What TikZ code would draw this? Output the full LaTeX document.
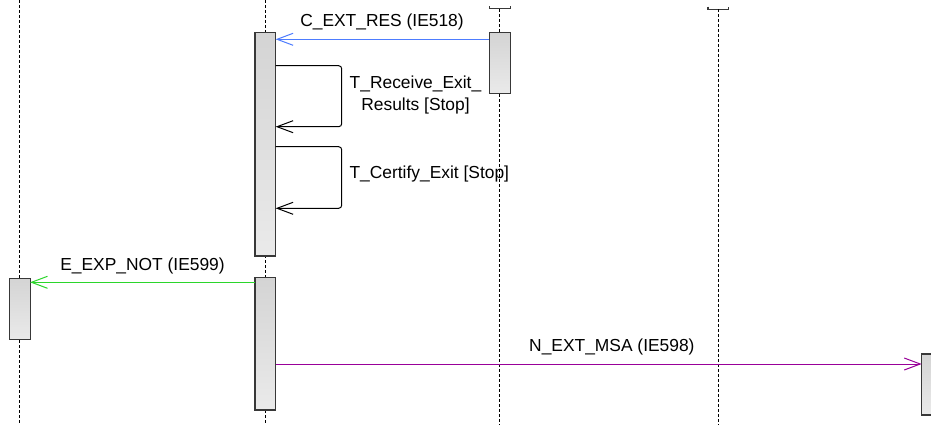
\documentclass[tikz,border=0pt]{standalone}
\usepackage{fontspec}
\setmainfont{Liberation Sans}
\usetikzlibrary{arrows.meta}
\definecolor{boxline}{HTML}{383838}
\definecolor{boxtop}{HTML}{D4D4D4}
\definecolor{boxbot}{HTML}{EAEAEA}
\definecolor{msgblue}{HTML}{4D7CFF}
\definecolor{msggreen}{HTML}{2BD62B}
\definecolor{msgpurple}{HTML}{990099}
\begin{document}
\begin{tikzpicture}[x=1pt,y=-1pt,
  actbox/.style={draw=boxline, line width=1.1pt, top color=boxtop, bottom color=boxbot,
    minimum width=20.7pt, inner sep=0pt, outer sep=0pt},
  headbox/.style={minimum width=20.7pt, minimum height=30pt, inner sep=0pt, outer sep=0pt},
  headedge/.style={draw=boxline, line width=1.1pt},
  lifeline/.style={draw=black, line width=0.8pt, dash pattern=on 3pt off 2pt},
  msg/.style={line width=1pt, -{Straight Barb[length=16pt,width=12pt,line width=1pt]}},
  lbl/.style={inner sep=0pt, font=\fontsize{17.4}{21.4}\selectfont},
]
\useasboundingbox (0,0) rectangle (931,425);
\clip (0,0) rectangle (931,425);
\fill[white] (0,0) rectangle (931,425);

% lifeline heads (cut off at the top: only their lower edge shows)
\node[headbox] (h499) at (499.7,-6.1) {};
\node[headbox] (h718) at (718.3,-5.9) {};
\draw[headedge] ([yshift=2.5pt]h499.south west) -- (h499.south west) -- (h499.south east) -- ([yshift=2.5pt]h499.south east);
\draw[headedge] ([yshift=2.5pt]h718.south west) -- (h718.south west) -- (h718.south east) -- ([yshift=2.5pt]h718.south east);

% anchors of the lifelines that start at the top edge
\path (265.3,144.3) coordinate (c265);
\path (19.7,308.8) coordinate (c20);

% lifelines
\draw[lifeline] (c20 |- 0,0) -- (c20 |- 0,425);
\draw[lifeline] (c265 |- 0,0) -- (c265 |- 0,425);
\draw[lifeline] (h499.south) -- (h499.south |- 0,425);
\draw[lifeline] (h718.south) -- (h718.south |- 0,425);

% activation boxes
\node[actbox, minimum height=223.3pt] (L265a) at (265.3,144.3) {};
\node[actbox, minimum height=132.3pt] (L265b) at (265.3,343.8) {};
\node[actbox, minimum height=60.6pt] (L499a) at (499.7,63) {};
\node[actbox, minimum height=61pt] (L20a) at (19.7,308.8) {};
\node[actbox, minimum height=61pt] (Rbox) at (932,384.5) {};

% messages
\draw[msg, msgblue] (L499a.west |- 0,39.3) -- (L265a.east |- 0,39.3);
\node[lbl, anchor=base] (lblA) at (382,26.7) {C\_EXT\_RES (IE518)};

\draw[msg, black, rounded corners=3pt] (L265a.east |- 0,65.7) -- (341.7,65.7)
  -- (341.7,126.7) -- (L265a.east |- 0,126.7);
\node[lbl, align=center] (lblB) at (415.5,95) {T\_Receive\_Exit\_\\Results [Stop]};

\draw[msg, black, rounded corners=3pt] (L265a.east |- 0,146.7) -- (341.7,146.7)
  -- (341.7,208.3) -- (L265a.east |- 0,208.3);
\node[lbl, anchor=base west] (lblC) at (349.3,178.3) {T\_Certify\_Exit [Stop]};

\draw[msg, msggreen] (L265b.west |- 0,282.3) -- (L20a.east |- 0,282.3);
\node[lbl, anchor=base] (lblD) at (142.5,270.7) {E\_EXP\_NOT (IE599)};

\draw[msg, msgpurple] (L265b.east |- 0,364) -- (Rbox.west |- 0,364);
\node[lbl, anchor=base west] (lblE) at (529,351.7) {N\_EXT\_MSA (IE598)};
\end{tikzpicture}
\end{document}
